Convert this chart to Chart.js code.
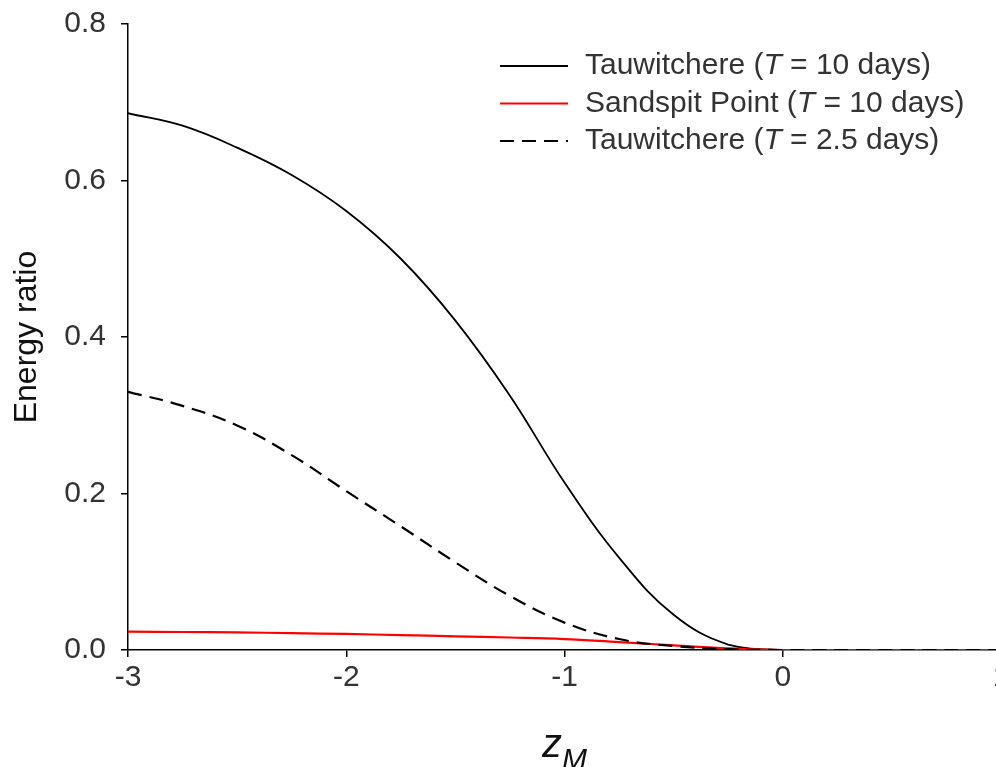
<!DOCTYPE html>
<html>
<head>
<meta charset="utf-8">
<title>Energy ratio</title>
<script src="https://cdn.jsdelivr.net/npm/chart.js@4.4.1/dist/chart.umd.min.js"></script>
<style>
  html, body { margin: 0; padding: 0; background: #fff; overflow: hidden; }
  #caixa { width: 1012px; height: 767px; }
</style>
</head>
<body>
<div id="caixa"><canvas id="grafico" width="1012" height="767"></canvas></div>
<script>
// valores (eixo x = z_M)
var zM = [-3, -2.75, -2.5, -2.25, -2, -1.75, -1.5, -1.25, -1, -0.75, -0.5, -0.25, 0, 0.5, 1];
var tauwitchere10 = [0.686, 0.670, 0.642, 0.607, 0.561, 0.500, 0.421, 0.325, 0.214, 0.118, 0.045, 0.007, 0, 0, 0];
var sandspit10 = [0.0235, 0.023, 0.0225, 0.0215, 0.0205, 0.019, 0.0175, 0.016, 0.014, 0.010, 0.006, 0.002, 0, 0, 0];
var tauwitchere25 = [0.330, 0.312, 0.287, 0.249, 0.203, 0.158, 0.112, 0.069, 0.035, 0.014, 0.005, 0.001, 0, 0, 0];

var ticksX = [-3, -2, -1, 0, 1];
var ticksY = [0, 0.2, 0.4, 0.6, 0.8];

// partes do texto da legenda (o T fica em italico)
var legendas = [
    ['Tauwitchere (', 'T', ' = 10 days)'],
    ['Sandspit Point (', 'T', ' = 10 days)'],
    ['Tauwitchere (', 'T', ' = 2.5 days)']
];

var fonte = "'Liberation Sans', Arial, sans-serif";
Chart.defaults.font.family = fonte;
Chart.defaults.color = '#333';

function pontos(valores) {
    return zM.map(function (z, i) { return { x: z, y: valores[i] }; });
}

//Plugin para desenhar a legenda dentro do grafico e o titulo do eixo x
var extras = {
    id: 'extras',
    afterDraw: function (chart) {
        var ctx = chart.ctx;
        var area = chart.chartArea;
        ctx.save();
        chart.data.datasets.forEach(function (ds, i) {
            var y = area.top + 42 + i * 37.5;
            var x0 = area.left + 372;
            ctx.strokeStyle = ds.borderColor;
            ctx.lineWidth = ds.borderWidth;
            ctx.setLineDash(ds.borderDash || []);
            ctx.beginPath();
            ctx.moveTo(x0, y);
            ctx.lineTo(x0 + 68, y);
            ctx.stroke();
            ctx.setLineDash([]);
            var x = x0 + 85;
            ctx.textBaseline = 'middle';
            ctx.textAlign = 'left';
            ctx.fillStyle = '#333';
            legendas[i].forEach(function (parte, j) {
                ctx.font = (j == 1 ? 'italic ' : '') + '30px ' + fonte;
                ctx.fillText(parte, x, y);
                x += ctx.measureText(parte).width;
            });
        });

        // z com M subscrito
        ctx.fillStyle = '#111';
        ctx.textBaseline = 'alphabetic';
        ctx.font = 'italic 40px ' + fonte;
        var larguraZ = ctx.measureText('z').width;
        ctx.font = 'italic 30px ' + fonte;
        var larguraM = ctx.measureText('M').width;
        var xz = (area.left + area.right) / 2 - (larguraZ + larguraM) / 2;
        ctx.font = 'italic 40px ' + fonte;
        ctx.fillText('z', xz, 757);
        ctx.font = 'italic 30px ' + fonte;
        ctx.fillText('M', xz + larguraZ, 769);
        ctx.restore();
    }
};

var ctx = document.getElementById('grafico').getContext('2d');
var myChart = new Chart(ctx, {
    type: 'line',
    data: {
        datasets: [{
            label: 'Tauwitchere (T = 10 days)',
            data: pontos(tauwitchere10),
            borderColor: '#000000',
            borderWidth: 1.8,
            order: 3
        }, {
            label: 'Sandspit Point (T = 10 days)',
            data: pontos(sandspit10),
            borderColor: '#ff0000',
            borderWidth: 2.2,
            order: 2
        }, {
            label: 'Tauwitchere (T = 2.5 days)',
            data: pontos(tauwitchere25),
            borderColor: '#000000',
            borderWidth: 2.2,
            borderDash: [14, 8],
            order: 1
        }]
    },
    options: {
        responsive: false,
        animation: false,
        elements: {
            point: { radius: 0 },
            line: { tension: 0.4, fill: false }
        },
        layout: { padding: { top: 24, right: 11, left: 0, bottom: 0 } },
        plugins: {
            legend: { display: false },
            tooltip: { enabled: false }
        },
        scales: {
            x: {
                type: 'linear',
                min: -3,
                max: 1,
                afterBuildTicks: function (scale) {
                    scale.ticks = ticksX.map(function (v) { return { value: v }; });
                },
                afterFit: function (scale) {
                    scale.height = 117;
                    scale.paddingLeft = 0;
                    scale.paddingRight = 0;
                },
                grid: { drawOnChartArea: false, tickLength: 7, color: '#000', lineWidth: 1.5 },
                border: { color: '#000', width: 1.5 },
                ticks: {
                    font: { size: 30 },
                    padding: 3,
                    maxRotation: 0,
                    callback: function (v) { return String(v); }
                }
            },
            y: {
                min: 0,
                max: 0.8,
                afterBuildTicks: function (scale) {
                    scale.ticks = ticksY.map(function (v) { return { value: v }; });
                },
                afterFit: function (scale) {
                    scale.width = 128;
                    scale.paddingTop = 0;
                    scale.paddingBottom = 0;
                },
                grid: { drawOnChartArea: false, tickLength: 7, color: '#000', lineWidth: 1.5 },
                border: { color: '#000', width: 1.5 },
                ticks: {
                    font: { size: 30 },
                    padding: 15,
                    callback: function (v) { return v.toFixed(1); }
                },
                title: {
                    display: true,
                    text: 'Energy ratio',
                    font: { size: 32 },
                    color: '#111',
                    padding: { top: 8, bottom: 0 }
                }
            }
        }
    },
    plugins: [extras]
});
</script>
</body>
</html>
